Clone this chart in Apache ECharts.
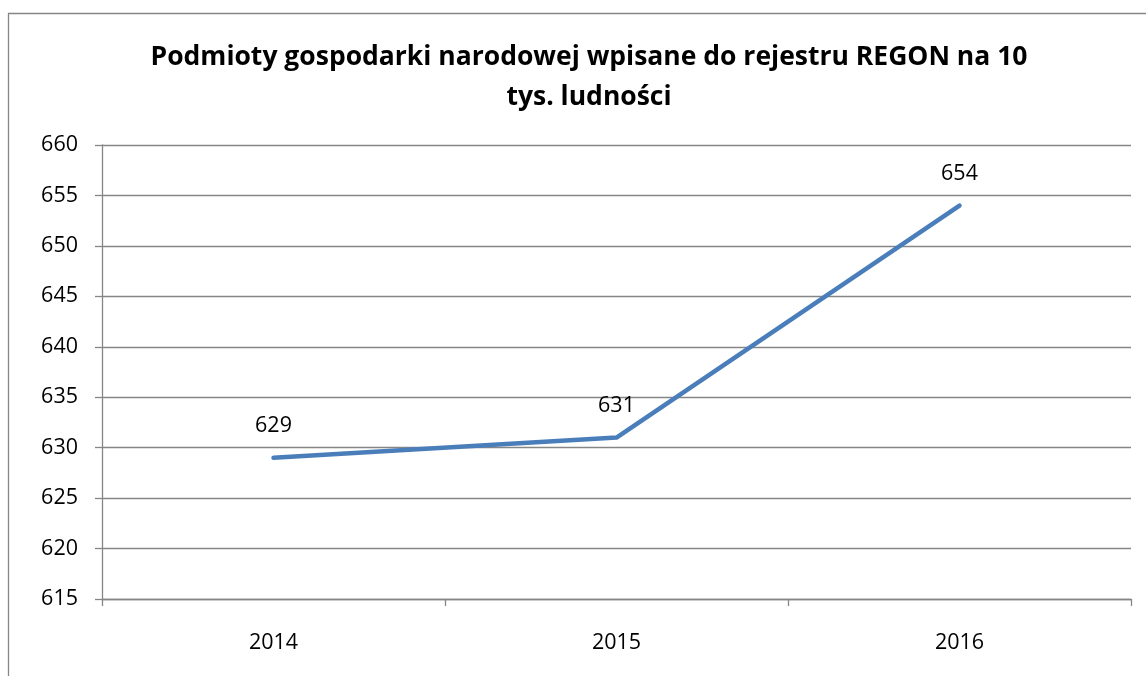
<!DOCTYPE html>
<html>
<head>
<meta charset="utf-8">
<script src="https://cdn.jsdelivr.net/npm/echarts@6/dist/echarts.min.js"></script>
<style>
html,body{margin:0;padding:0;background:#fff;}
#chart{width:1146px;height:676px;}
</style>
</head>
<body>
<div id="chart"></div>
<script>
var titleText = 'Podmioty gospodarki narodowej wpisane do rejestru REGON na 10\ntys. ludności';
var categories = ['2014', '2015', '2016'];
var values = [629, 631, 654];
var yMin = 615, yMax = 660, yStep = 5;

var FONT = '"Open Sans", "Liberation Sans", sans-serif';
var chart = echarts.init(document.getElementById('chart'), null, {renderer: 'canvas'});
chart.setOption({
  animation: false,
  backgroundColor: '#ffffff',
  graphic: [{
    type: 'rect',
    shape: {x: 8.5, y: 13.5, width: 1160, height: 700},
    style: {fill: 'none', stroke: '#868686', lineWidth: 1.3},
    silent: true
  }],
  title: {
    text: titleText,
    left: 584,
    textAlign: 'center',
    top: 32,
    textStyle: {
      fontFamily: FONT, fontWeight: 'bold', fontSize: 26.5,
      color: '#000', lineHeight: 40
    }
  },
  grid: {left: 102, right: 15, top: 145, bottom: 77, containLabel: false},
  xAxis: {
    type: 'category',
    data: categories,
    boundaryGap: true,
    axisLine: {show: true, lineStyle: {color: '#868686', width: 1.3}},
    axisTick: {show: true, length: 7, inside: false, lineStyle: {color: '#868686', width: 1.3}},
    axisLabel: {color: '#000', fontFamily: FONT, fontSize: 21.5, margin: 33},
    splitLine: {show: false}
  },
  yAxis: {
    type: 'value',
    min: yMin, max: yMax, interval: yStep,
    axisLine: {show: true, lineStyle: {color: '#868686', width: 1.3}},
    axisTick: {show: true, length: 7, lineStyle: {color: '#868686', width: 1.3}},
    axisLabel: {color: '#000', fontFamily: FONT, fontSize: 21.5, margin: 24},
    splitLine: {show: true, lineStyle: {color: '#868686', width: 1.3}}
  },
  series: [{
    type: 'line',
    data: values,
    showSymbol: true,
    symbol: 'circle',
    symbolSize: 1,
    itemStyle: {color: 'rgba(0,0,0,0)'},
    lineStyle: {color: '#4a7ebb', width: 4.5, cap: 'round', join: 'round'},
    label: {
      show: true, position: 'top', distance: 20,
      color: '#000', fontFamily: FONT, fontSize: 21.5
    }
  }]
});
</script>
</body>
</html>
